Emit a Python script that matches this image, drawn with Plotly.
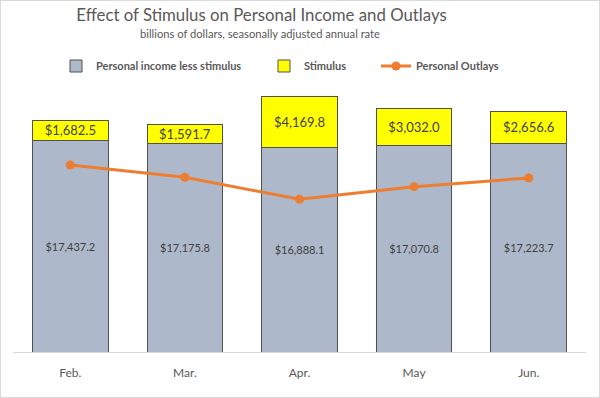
import plotly.graph_objects as go

months = ["Feb.", "Mar.", "Apr.", "May", "Jun."]
income_less_stimulus = [17437.2, 17175.8, 16888.1, 17070.8, 17223.7]
stimulus = [1682.5, 1591.7, 4169.8, 3032.0, 2656.6]
personal_outlays = [15428, 14413, 12600, 13640, 14355]

FONT = "Lato, 'Open Sans', sans-serif"
GREY_TXT = "#595959"

fig = go.Figure()
fig.add_trace(go.Bar(
    x=months, y=income_less_stimulus, name="Personal income less stimulus",
    marker=dict(color="#ADB9CA", line=dict(color="#505050", width=1)),
    texttemplate="$%{y:,.1f}", textposition="inside", insidetextanchor="middle",
    textfont=dict(size=11, color="#404040", family=FONT), constraintext="none",
    legend="legend", hoverinfo="y",
))
fig.add_trace(go.Bar(
    x=months, y=stimulus, name="Stimulus",
    marker=dict(color="#FFFF00", line=dict(color="#505050", width=1)),
    texttemplate="$%{y:,.1f}", textposition="inside", insidetextanchor="middle",
    textfont=dict(size=13, color="#404040", family=FONT), constraintext="none",
    legend="legend2", hoverinfo="y",
))
fig.add_trace(go.Scatter(
    x=months, y=personal_outlays, name="Personal Outlays", mode="lines+markers",
    line=dict(color="#ED7D31", width=3), marker=dict(size=9, color="#ED7D31"),
    legend="legend3",
))

leg_common = dict(orientation="h", yanchor="middle", xanchor="left",
                  font=dict(size=11, color=GREY_TXT, family=FONT, weight="bold"),
                  bgcolor="rgba(0,0,0,0)")
def px_x(px):
    return (px - 13) / 573
def px_y(py):
    return (352 - py) / 303

fig.update_layout(
    width=600, height=398,
    margin=dict(l=13, r=14, t=49, b=46, autoexpand=False),
    paper_bgcolor="white", plot_bgcolor="white",
    barmode="stack", bargap=0.34,
    font=dict(family=FONT, color=GREY_TXT),
    title=dict(text="Effect of Stimulus on Personal Income and Outlays",
               x=261.5 / 600, xanchor="center", y=1 - 15 / 398, yanchor="middle",
               font=dict(size=16.8, color=GREY_TXT, family=FONT, weight=400)),
    showlegend=True,
    legend=dict(x=px_x(56), y=px_y(66), **leg_common),
    legend2=dict(x=px_x(264), y=px_y(66), **leg_common),
    legend3=dict(x=px_x(376), y=px_y(66), **leg_common),
    xaxis=dict(showline=True, linecolor="#D9D9D9", linewidth=1, showgrid=False,
               ticks="", tickfont=dict(size=12, color=GREY_TXT, family=FONT),
               ticklabelstandoff=10, fixedrange=True, automargin=False),
    yaxis=dict(visible=False, range=[0, 25000], fixedrange=True, automargin=False),
    annotations=[dict(text="billions of dollars, seasonally adjusted annual rate",
                      xref="paper", yref="paper", x=px_x(260), y=px_y(34),
                      xanchor="center", yanchor="middle", showarrow=False,
                      font=dict(size=11.2, color=GREY_TXT, family=FONT))],
    shapes=[dict(type="rect", xref="paper", yref="paper",
                 x0=px_x(0.5), x1=px_x(599.5), y0=px_y(397.5), y1=px_y(0.5),
                 line=dict(color="#D9D9D9", width=1), layer="below")],
)

fig.write_html("out.html", config={"displayModeBar": False},
               post_script="document.body.style.margin='0';document.body.style.overflow='hidden';")
